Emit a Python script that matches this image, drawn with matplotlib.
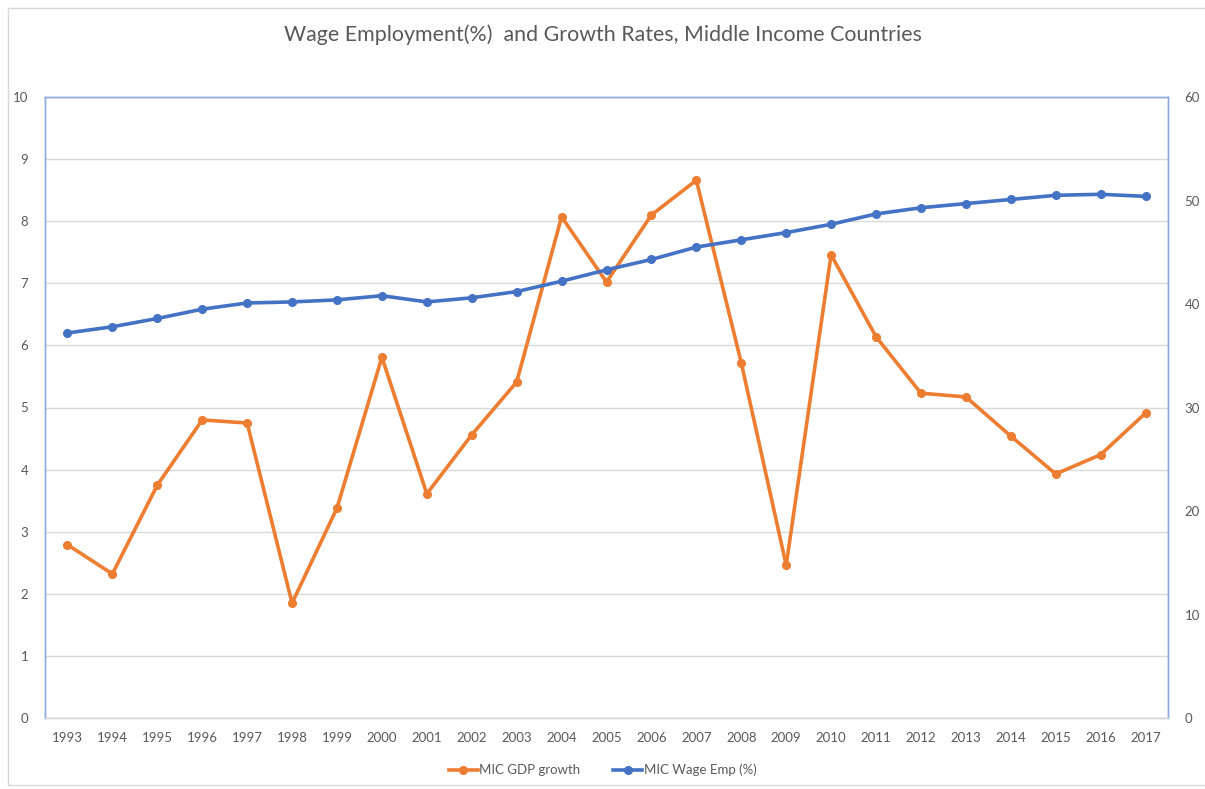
import matplotlib.pyplot as plt
from matplotlib.patches import Rectangle
from matplotlib.lines import Line2D

plt.rcParams['font.family'] = ['Lato', 'DejaVu Sans']

years = [str(y) for y in range(1993, 2018)]
gdp_growth = [2.79, 2.32, 3.75, 4.80, 4.75, 1.85, 3.38, 5.81, 3.61, 4.56,
              5.41, 8.07, 7.02, 8.10, 8.66, 5.72, 2.46, 7.46, 6.14, 5.23,
              5.17, 4.54, 3.93, 4.24, 4.91]
wage_emp = [37.2, 37.8, 38.6, 39.5, 40.1, 40.2, 40.4, 40.8, 40.2, 40.6,
            41.2, 42.2, 43.3, 44.3, 45.5, 46.2, 46.9, 47.7, 48.7, 49.3,
            49.7, 50.1, 50.5, 50.6, 50.4]

orange = '#ED7D31'
blue = '#4472C4'
txt = '#595959'

fig = plt.figure(figsize=(12.05, 7.89), dpi=100)
fig.patches.append(Rectangle((8 / 1205, 4 / 789), 1.2, 777 / 789, transform=fig.transFigure,
                             fill=False, edgecolor='#D9D9D9', linewidth=1))

ax = fig.add_axes([45 / 1205, 1 - 718 / 789, 1123 / 1205, 621 / 789])
ax2 = ax.twinx()

x = list(range(len(years)))
ax.plot(x, gdp_growth, color=orange, linewidth=2.6, marker='o', markersize=5.5, zorder=3)
ax2.plot(x, wage_emp, color=blue, linewidth=2.6, marker='o', markersize=5.5, zorder=3)

ax.set_xlim(-0.5, len(years) - 0.5)
ax.set_ylim(0, 10)
ax.set_yticks(range(0, 11))
ax2.set_ylim(0, 60)
ax2.set_yticks(range(0, 61, 10))
ax.set_xticks(x)
ax.set_xticklabels(years)
ax.grid(axis='y', color='#D9D9D9', linewidth=1)
ax.set_axisbelow(True)

for a in (ax, ax2):
    a.tick_params(length=0, labelsize=9.5, colors=txt)
    for s in a.spines.values():
        s.set_color('#8FAADC')
        s.set_linewidth(1)
    a.spines['bottom'].set_color('#D9D9D9')
ax.tick_params(axis='y', pad=12)
ax.tick_params(axis='x', pad=10)
ax2.tick_params(axis='y', pad=12)

fig.text(0.5, 1 - 35 / 789, 'Wage Employment(%)  and Growth Rates, Middle Income Countries',
         ha='center', va='center', fontsize=15.4, color=txt)

handles = [Line2D([], [], color=orange, linewidth=2.6, marker='o', markersize=5.5),
           Line2D([], [], color=blue, linewidth=2.6, marker='o', markersize=5.5)]
fig.legend(handles, ['MIC GDP growth', 'MIC Wage Emp (%)'], loc='center',
           bbox_to_anchor=(0.5, 1 - 770 / 789), ncol=2, frameon=False, fontsize=9.5,
           labelcolor=txt, handlelength=2.2, handletextpad=0.1, columnspacing=2.5)

fig.savefig('out.png', dpi=100)
